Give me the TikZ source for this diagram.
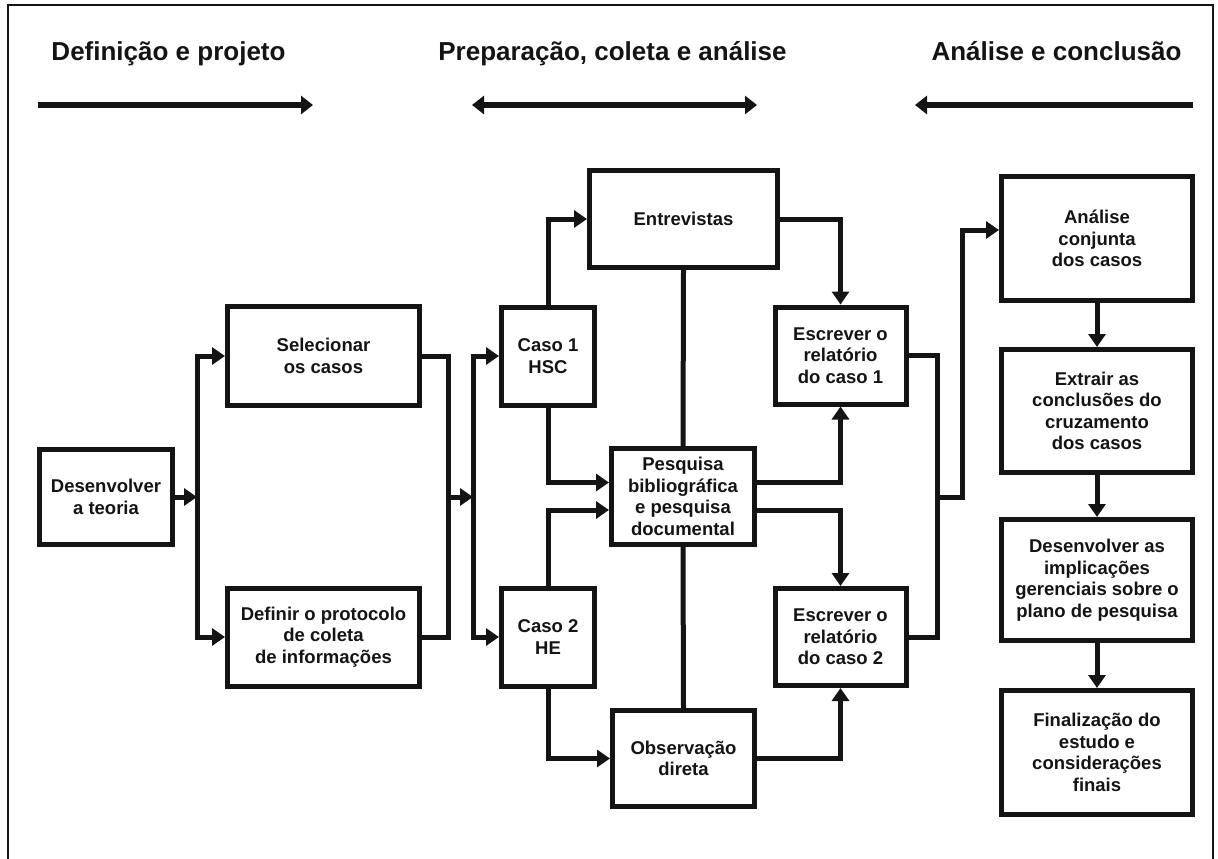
\documentclass[tikz,border=0pt]{standalone}
\usepackage{fontspec}
\setmainfont{Liberation Sans}
\usetikzlibrary{arrows.meta}
\colorlet{ink}{black!92}
\tikzset{
  box/.style={draw=ink, line width=5pt, fill=white, inner sep=0pt, align=center, text=ink,
    font=\bfseries\fontsize{18.5}{21.5}\selectfont},
  ln/.style={draw=ink, line width=5pt},
  arr/.style={ln, -{Triangle[length=13pt,width=17pt]}},
  harr/.style={draw=ink, line width=6.5pt, -{Triangle[length=12pt,width=18pt]}},
  hdarr/.style={draw=ink, line width=6.5pt, {Triangle[length=12pt,width=18pt]}-{Triangle[length=12pt,width=18pt]}},
  hdr/.style={anchor=base, inner sep=0pt, text=ink, font=\bfseries\fontsize{26}{30}\selectfont}
}
\begin{document}
\begin{tikzpicture}[x=1pt,y=-1pt]
\useasboundingbox (0,0) rectangle (1218,859);
% frame
\draw[line width=2.2pt, ink] (8,859) -- (8,5) -- (1213,5) -- (1213,859);
% headers
\node[hdr] (t1) at (168.5,60) {Definição e projeto};
\node[hdr] (t2) at (612.5,60) {Preparação, coleta e análise};
\node[hdr] (t3) at (1056.5,60) {Análise e conclusão};
\coordinate (h1a) at (38,105); \coordinate (h1b) at (313,105);
\coordinate (h2a) at (472,105); \coordinate (h2b) at (757,105);
\coordinate (h3a) at (1193,105); \coordinate (h3b) at (915,105);
\draw[harr] (h1a) -- (h1b);
\draw[hdarr] (h2a) -- (h2b);
\draw[harr] (h3a) -- (h3b);
% boxes
\node[box, minimum width=133pt, minimum height=95pt] (dev) at (106,497) {Desenvolver\\a teoria};
\node[box, minimum width=192pt, minimum height=99pt] (sel) at (323.5,356) {Selecionar\\os casos};
\node[box, minimum width=192pt, minimum height=98pt] (def) at (323.5,637) {Definir o protocolo\\de coleta\\de informações};
\node[box, minimum width=93pt, minimum height=98pt] (c1) at (548,356) {Caso 1\\HSC};
\node[box, minimum width=93pt, minimum height=98pt] (c2) at (548,637) {Caso 2\\HE};
\node[box, minimum width=188pt, minimum height=97pt] (ent) at (683.5,219) {Entrevistas};
\node[box, minimum width=143pt, minimum height=96pt] (pes) at (683,496.5) {Pesquisa\\bibliográfica\\e pesquisa\\documental};
\node[box, minimum width=142pt, minimum height=96pt] (obs) at (683.5,758.5) {Observação\\direta};
\node[box, minimum width=131pt, minimum height=97pt] (esc1) at (840.5,355.5) {Escrever o\\relatório\\do caso 1};
\node[box, minimum width=131pt, minimum height=97pt] (esc2) at (840.5,637) {Escrever o\\relatório\\do caso 2};
\node[box, minimum width=191pt, minimum height=124pt] (ana) at (1097,238.5) {Análise\\conjunta\\dos casos};
\node[box, minimum width=191pt, minimum height=123pt] (ext) at (1097,411) {Extrair as\\conclusões do\\cruzamento\\dos casos};
\node[box, minimum width=191pt, minimum height=121pt] (imp) at (1097,580) {Desenvolver as\\implicações\\gerenciais sobre o\\plano de pesquisa};
\node[box, minimum width=191pt, minimum height=124pt] (fin) at (1097,752.5) {Finalização do\\estudo e\\considerações\\finais};
% bus coordinates
\coordinate (b1) at (197,497);
\coordinate (b2) at (448,497);
\coordinate (b3) at (473,497);
\coordinate (b4) at (937,497);
\coordinate (b5) at (962,497);
% connectors
\draw[arr] (dev.east) -- (b1);
\draw[arr] (b1) |- (sel.west);
\draw[arr] (b1) |- (def.west);
\draw[ln] (sel.east) -| (b2) |- (def.east);
\draw[arr] (b2) -- (b3);
\draw[arr] (b3) |- (c1.west);
\draw[arr] (b3) |- (c2.west);
\draw[arr] (c1.north) |- (ent.west);
\draw[arr] (c1.south) |- ([yshift=14pt]pes.west);
\draw[arr] (c2.north) |- ([yshift=-13.5pt]pes.west);
\draw[arr] (c2.south) |- (obs.west);
\draw[ln] (ent.south) -- (pes.north);
\draw[ln] (pes.south) -- (obs.north);
\draw[arr] (ent.east) -| (esc1.north);
\draw[arr] ([yshift=14pt]pes.east) -| (esc1.south);
\draw[arr] ([yshift=-13.5pt]pes.east) -| (esc2.north);
\draw[arr] (obs.east) -| (esc2.south);
\draw[ln] (esc1.east) -| (b4) |- (esc2.east);
\draw[arr] (b4) -- (b5) |- ([yshift=8.5pt]ana.west);
\draw[arr] (ana.south) -- (ext.north);
\draw[arr] (ext.south) -- (imp.north);
\draw[arr] (imp.south) -- (fin.north);
\end{tikzpicture}
\end{document}
